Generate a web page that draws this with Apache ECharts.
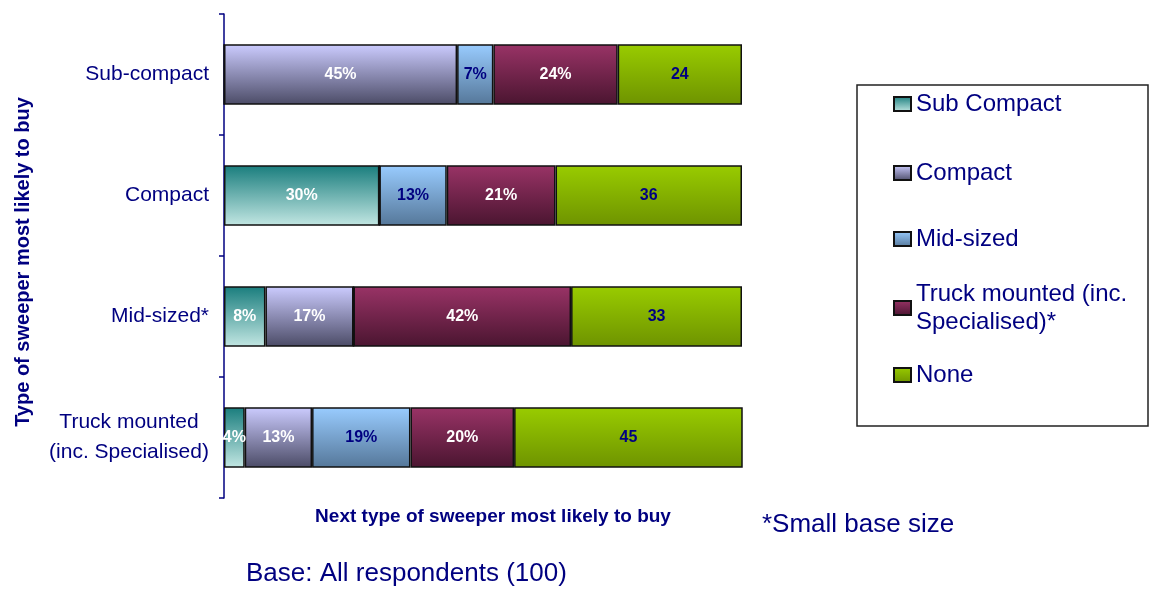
<!DOCTYPE html>
<html>
<head>
<meta charset="utf-8">
<style>
  html, body { margin: 0; padding: 0; background: #ffffff; }
  #chart { width: 1150px; height: 590px; }
</style>
<script src="https://cdn.jsdelivr.net/npm/echarts@6/dist/echarts.min.js"></script>
</head>
<body>
<div id="chart"></div>
<script>
// Current sweeper type (rows) and the next type respondents expect to buy (stacked segments)
const categories = ['Sub-compact', 'Compact', 'Mid-sized*', 'Truck mounted\n(inc. Specialised)'];
const seriesNames = ['Sub Compact', 'Compact', 'Mid-sized', 'Truck mounted (inc. Specialised)*', 'None'];

const subCompactShare   = [0, 30, 8, 4];
const compactShare      = [45, 0, 17, 13];
const midSizedShare     = [7, 13, 0, 19];
const truckMountedShare = [24, 21, 42, 20];
const noneShare         = [24, 36, 33, 45];

const seriesValues = [subCompactShare, compactShare, midSizedShare, truckMountedShare, noneShare];
const labelSuffix = ['%', '%', '%', '%', ''];

const NAVY = '#000080';
const FONT = '"Liberation Sans", Arial, sans-serif';

// Vertical gradients, top colour then bottom colour
const gradients = [
  ['#197d7d', '#c3e7e3'],
  ['#ccccff', '#4b4b66'],
  ['#99ccff', '#557799'],
  ['#993366', '#4a1530'],
  ['#99cc00', '#6e9300']
];
const labelColors = ['#ffffff', '#ffffff', NAVY, '#ffffff', NAVY];

function grad(pair) {
  return new echarts.graphic.LinearGradient(0, 0, 0, 1, [
    { offset: 0, color: pair[0] },
    { offset: 1, color: pair[1] }
  ]);
}

const series = seriesNames.map((name, i) => ({
  name: name,
  type: 'bar',
  stack: 'total',
  barCategoryGap: '50%',
  data: seriesValues[i],
  itemStyle: {
    color: grad(gradients[i]),
    borderColor: '#111111',
    borderWidth: 1.5
  },
  label: {
    show: true,
    position: 'inside',
    color: labelColors[i],
    fontFamily: FONT,
    fontWeight: 'bold',
    fontSize: 16,
    formatter: p => (p.value ? p.value + labelSuffix[i] : '')
  },
  emphasis: { disabled: true }
}));

// One legend block per entry so each row sits at its own height
const legendCenters = [104, 173, 239, 308, 375];
const legends = seriesNames.map((name, i) => {
  const twoLine = name.indexOf('Truck') === 0;
  return {
    data: [name],
    orient: 'vertical',
    left: 893,
    top: twoLine ? legendCenters[i] - 42 : legendCenters[i] - 14,
    padding: 0,
    icon: 'rect',
    itemWidth: 17,
    itemHeight: 14,
    selectedMode: false,
    formatter: twoLine ? () => 'Truck mounted (inc.\nSpecialised)*' : '{name}',
    textStyle: {
      color: NAVY,
      fontFamily: FONT,
      fontSize: 24,
      lineHeight: 28,
      padding: twoLine ? [28, 0, 0, 0] : 0
    }
  };
});

const chart = echarts.init(document.getElementById('chart'), null, { renderer: 'canvas' });

chart.setOption({
  animation: false,
  backgroundColor: '#ffffff',
  grid: { left: 224, right: 408, top: 14, bottom: 92, containLabel: false },
  legend: legends,
  xAxis: {
    type: 'value',
    min: 0,
    max: 100,
    name: 'Next type of sweeper most likely to buy',
    nameLocation: 'middle',
    nameGap: 9,
    nameTextStyle: {
      color: NAVY,
      fontFamily: FONT,
      fontWeight: 'bold',
      fontSize: 19,
      padding: [0, 0, 0, 20]
    },
    axisLine: { show: false },
    axisTick: { show: false },
    axisLabel: { show: false },
    splitLine: { show: false }
  },
  yAxis: {
    type: 'category',
    inverse: true,
    data: categories,
    name: 'Type of sweeper most likely to buy',
    nameLocation: 'middle',
    nameGap: 191,
    nameTextStyle: {
      color: NAVY,
      fontFamily: FONT,
      fontWeight: 'bold',
      fontSize: 20,
      padding: [0, 12, 0, 0]
    },
    axisLine: { show: true, lineStyle: { color: NAVY, width: 1.5 } },
    axisTick: { show: true, length: 5, lineStyle: { color: NAVY, width: 1.5 } },
    axisLabel: {
      color: NAVY,
      fontFamily: FONT,
      fontSize: 21,
      margin: 15,
      formatter: v => v.indexOf('\n') >= 0
        ? v.split('\n').map(line => '{c|' + line + '}').join('\n')
        : v,
      rich: {
        c: {
          width: 160,
          align: 'center',
          color: NAVY,
          fontFamily: FONT,
          fontSize: 21,
          lineHeight: 30
        }
      }
    },
    splitLine: { show: false }
  },
  graphic: [
    {
      type: 'rect',
      silent: true,
      shape: { x: 857, y: 85, width: 291, height: 341 },
      style: { fill: 'none', stroke: '#222222', lineWidth: 1.5 }
    },
    {
      type: 'text',
      silent: true,
      left: 762,
      top: 512,
      style: { text: '*Small base size', fill: NAVY, font: '26px ' + FONT }
    },
    {
      type: 'text',
      silent: true,
      left: 246,
      top: 561,
      style: { text: 'Base: All respondents (100)', fill: NAVY, font: '26px ' + FONT }
    }
  ],
  series: series
});
</script>
</body>
</html>
